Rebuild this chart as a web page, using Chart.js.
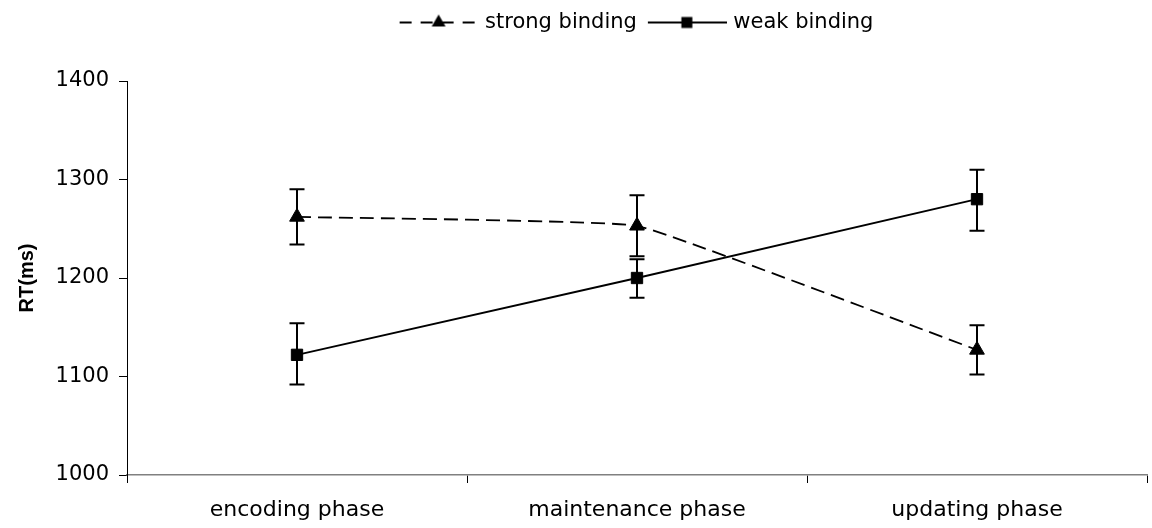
<!DOCTYPE html>
<html>
<head>
<meta charset="utf-8">
<script src="https://cdn.jsdelivr.net/npm/chart.js@4/dist/chart.umd.min.js"></script>
<style>
  html, body { margin: 0; padding: 0; background: #fff; }
  #wrap { width: 1152px; height: 528px; position: relative; }
</style>
</head>
<body>
<div id="wrap"><canvas id="c" width="1152" height="528"></canvas></div>
<script>
// ---- data ----
const categories = ['encoding phase', 'maintenance phase', 'updating phase'];
const strongMean = [1262, 1253, 1127];
const strongLow  = [1234, 1222, 1102];
const strongHigh = [1290, 1284, 1152];
const weakMean   = [1122, 1200, 1280];
const weakLow    = [1092, 1180, 1248];
const weakHigh   = [1154, 1219, 1310];
const yTicks     = [1000, 1100, 1200, 1300, 1400];
const seriesNames = ['strong binding', 'weak binding'];

Chart.defaults.font.family = "'DejaVu Sans', sans-serif";
Chart.defaults.color = '#000';

// legend icons (line + marker samples)
function makeIcon(dashed, marker) {
  const cv = document.createElement('canvas');
  cv.width = 82; cv.height = 18;
  const c = cv.getContext('2d');
  c.strokeStyle = '#000'; c.fillStyle = '#000'; c.lineWidth = 2;
  if (dashed) c.setLineDash([12, 9]);
  c.beginPath(); c.moveTo(3, 9); c.lineTo(82, 9); c.stroke();
  c.setLineDash([]);
  const cx = 42, cy = 9;
  if (marker === 'triangle') {
    const r = 8;
    c.beginPath();
    c.moveTo(cx, cy - r);
    c.lineTo(cx + r * 0.866, cy + r * 0.5);
    c.lineTo(cx - r * 0.866, cy + r * 0.5);
    c.closePath(); c.fill();
  } else {
    c.fillRect(cx - 5.5, cy - 5.5, 11, 11);
  }
  return cv;
}
const legendIcons = [makeIcon(true, 'triangle'), makeIcon(false, 'rect')];

const errorBars = {
  id: 'errorBars',
  beforeDatasetsDraw(chart) {
    const ctx = chart.ctx, ys = chart.scales.y;
    chart.data.datasets.forEach((ds, i) => {
      const meta = chart.getDatasetMeta(i);
      meta.data.forEach((pt, j) => {
        const lo = ys.getPixelForValue(ds.errLow[j]);
        const hi = ys.getPixelForValue(ds.errHigh[j]);
        ctx.save();
        ctx.strokeStyle = '#000'; ctx.lineWidth = 2;
        ctx.beginPath();
        ctx.moveTo(pt.x, lo); ctx.lineTo(pt.x, hi);
        ctx.moveTo(pt.x - 7.5, lo); ctx.lineTo(pt.x + 7.5, lo);
        ctx.moveTo(pt.x - 7.5, hi); ctx.lineTo(pt.x + 7.5, hi);
        ctx.stroke();
        ctx.restore();
      });
    });
  }
};

const legendTweak = {
  id: 'legendTweak',
  beforeLayout(chart) {
    const lg = chart.legend;
    if (!lg || lg._tweaked) return;
    lg._tweaked = true;
    const origFit = lg.fit.bind(lg);
    lg.fit = function () { origFit(); this.height = 81; };
    const origDraw = lg.draw.bind(lg);
    lg.draw = function () {
      const ca = chart.chartArea;
      const shift = (ca.left + ca.right) / 2 - (this.left + this.right) / 2;
      const ctx = chart.ctx;
      ctx.save(); ctx.translate(shift, 0); origDraw(); ctx.restore();
    };
  }
};

new Chart(document.getElementById('c'), {
  type: 'line',
  data: {
    labels: categories,
    datasets: [
      {
        label: seriesNames[0], data: strongMean, errLow: strongLow, errHigh: strongHigh,
        borderColor: '#000', backgroundColor: '#000', borderWidth: 1.8,
        borderDash: [14, 7], tension: 0.08,
        pointStyle: 'triangle', pointRadius: 8.5, pointBorderWidth: 1,
        pointBackgroundColor: '#000', pointBorderColor: '#000'
      },
      {
        label: seriesNames[1], data: weakMean, errLow: weakLow, errHigh: weakHigh,
        borderColor: '#000', backgroundColor: '#000', borderWidth: 1.8,
        tension: 0,
        pointStyle: 'rect', pointRadius: 8, pointBorderWidth: 1,
        pointBackgroundColor: '#000', pointBorderColor: '#000'
      }
    ]
  },
  options: {
    responsive: false,
    animation: false,
    layout: { autoPadding: false, padding: { left: 0, right: 5, top: 0, bottom: 0 } },
    plugins: {
      tooltip: { enabled: false },
      legend: {
        position: 'top',
        labels: {
          font: { size: 21 },
          color: '#000',
          usePointStyle: true,
          pointStyleWidth: 74,
          padding: 12,
          generateLabels: (chart) => chart.data.datasets.map((ds, i) => ({
            text: ds.label, pointStyle: legendIcons[i], fillStyle: '#000',
            strokeStyle: '#000', lineWidth: 0, hidden: false, datasetIndex: i
          }))
        }
      }
    },
    scales: {
      x: {
        type: 'category',
        offset: true,
        grid: { display: true, drawOnChartArea: false, offset: true, tickLength: 8, color: '#000', lineWidth: 1 },
        border: { display: true, color: '#808080', width: 1.5 },
        ticks: { font: { size: 22 }, color: '#000', padding: 14, maxRotation: 0 },
        afterFit: (s) => { s.height = 53; s.paddingLeft = 0; s.paddingRight = 0; }
      },
      y: {
        min: 1000, max: 1400,
        afterBuildTicks: (s) => { s.ticks = yTicks.map(v => ({ value: v })); },
        grid: { display: true, drawOnChartArea: false, tickLength: 8, color: '#000', lineWidth: 1 },
        border: { display: true, color: '#000', width: 1 },
        ticks: { font: { size: 21 }, color: '#000', padding: 10, callback: (v) => String(v) },
        title: { display: true, text: 'RT(ms)', font: { family: "'Liberation Sans', Arial, sans-serif", size: 20, weight: 'bold' }, color: '#000', padding: { top: 15, bottom: 4 } },
        afterFit: (s) => { s.width = 127; }
      }
    }
  },
  plugins: [errorBars, legendTweak]
});
</script>
</body>
</html>
